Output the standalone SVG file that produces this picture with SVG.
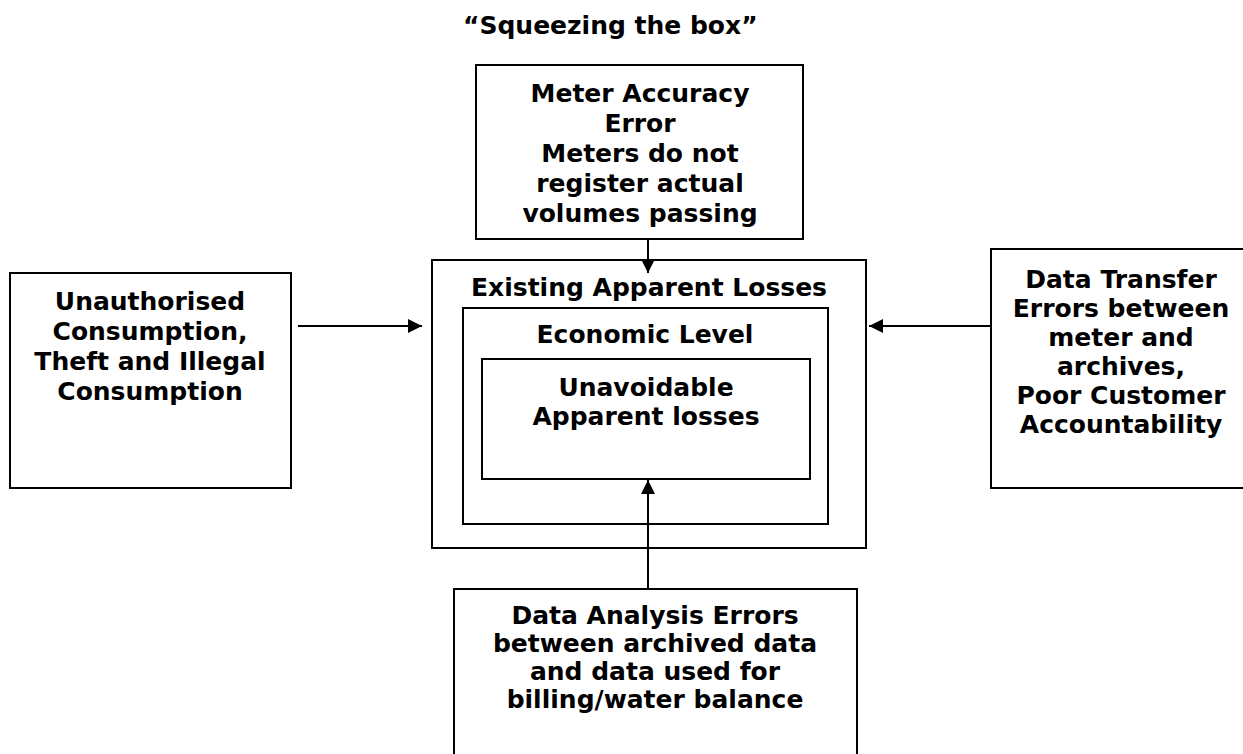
<svg xmlns="http://www.w3.org/2000/svg" width="1243" height="754" viewBox="0 0 1243 754">
<style>
text{font-family:"DejaVu Sans","Verdana",sans-serif;font-weight:bold;fill:#000}
.t{font-size:25px;text-anchor:middle}
.title{font-size:25px}
.box{fill:#fff;stroke:#000;stroke-width:2}
.con{stroke:#000;stroke-width:2;fill:none}
</style>
<defs>
<marker id="ah" viewBox="0 0 10 10" refX="10" refY="5" markerWidth="7" markerHeight="7" markerUnits="strokeWidth" orient="auto">
<path d="M0,0 L10,5 L0,10 z" fill="#000"/>
</marker>
</defs>
<rect width="1243" height="754" fill="#fff"/>
<text class="title" x="463" y="34">“Squeezing the box”</text>

<g id="outer">
<rect class="box" x="432" y="260" width="434" height="288"/>
<text class="t" x="649" y="296">Existing Apparent Losses</text>
</g>
<g id="economic">
<rect class="box" x="463" y="308" width="365" height="216"/>
<text class="t" x="645" y="343">Economic Level</text>
</g>
<g id="unavoidable">
<rect class="box" x="482" y="359" width="328" height="120"/>
<text class="t" x="646" y="396">Unavoidable</text>
<text class="t" x="646" y="425">Apparent losses</text>
</g>
<g id="meter">
<rect class="box" x="476" y="65" width="327" height="174"/>
<text class="t" x="640" y="102">Meter Accuracy</text>
<text class="t" x="640" y="132">Error</text>
<text class="t" x="640" y="162">Meters do not</text>
<text class="t" x="640" y="192">register actual</text>
<text class="t" x="640" y="222">volumes passing</text>
</g>
<g id="unauthorised">
<rect class="box" x="10" y="273" width="281" height="215"/>
<text class="t" x="150" y="310">Unauthorised</text>
<text class="t" x="150" y="340">Consumption,</text>
<text class="t" x="150" y="370">Theft and Illegal</text>
<text class="t" x="150" y="400">Consumption</text>
</g>
<g id="transfer">
<rect class="box" x="991" y="249" width="270" height="239"/>
<text class="t" x="1121" y="288">Data Transfer</text>
<text class="t" x="1121" y="317">Errors between</text>
<text class="t" x="1121" y="346">meter and</text>
<text class="t" x="1121" y="375">archives,</text>
<text class="t" x="1121" y="404">Poor Customer</text>
<text class="t" x="1121" y="433">Accountability</text>
</g>
<g id="analysis">
<rect class="box" x="454" y="589" width="403" height="180"/>
<text class="t" x="655" y="624">Data Analysis Errors</text>
<text class="t" x="655" y="652">between archived data</text>
<text class="t" x="655" y="680">and data used for</text>
<text class="t" x="655" y="708">billing/water balance</text>
</g>
<g id="connectors">
<line class="con" x1="648" y1="239" x2="648" y2="273" marker-end="url(#ah)"/>
<line class="con" x1="298" y1="326" x2="422" y2="326" marker-end="url(#ah)"/>
<line class="con" x1="991" y1="326" x2="869" y2="326" marker-end="url(#ah)"/>
<line class="con" x1="648" y1="589" x2="648" y2="480" marker-end="url(#ah)"/>
</g>
</svg>
